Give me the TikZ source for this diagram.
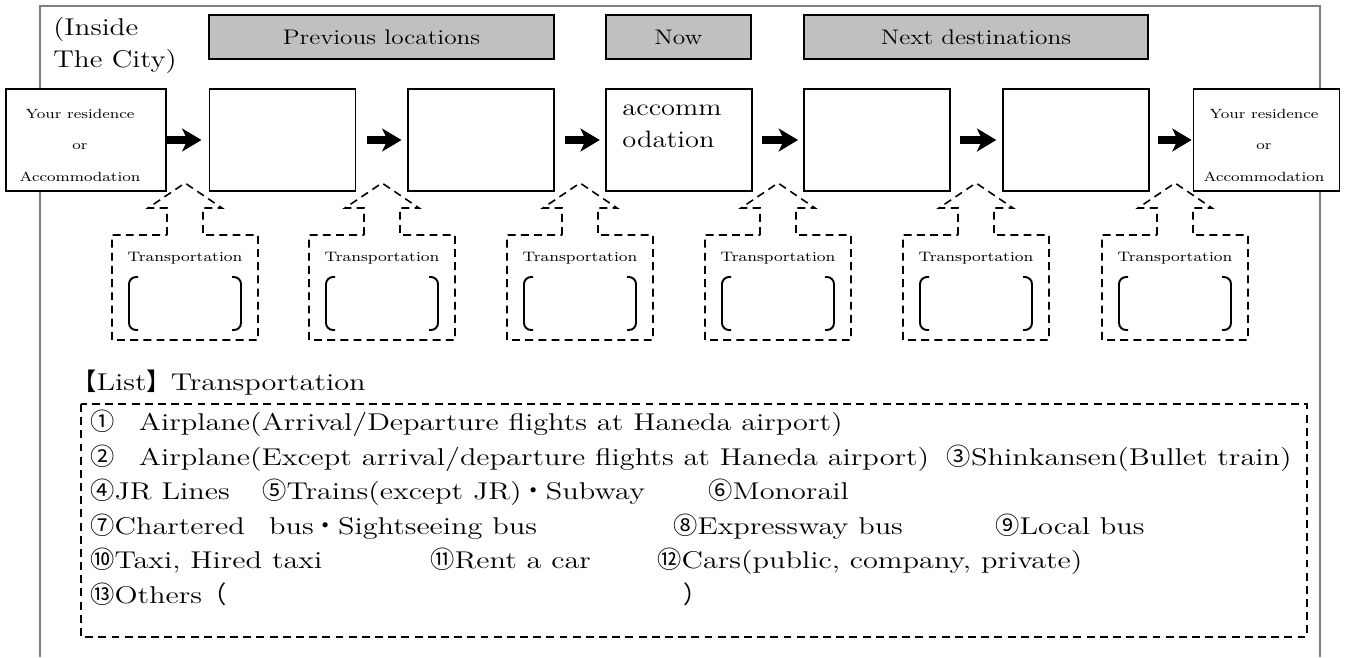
\documentclass[tikz,border=0pt]{standalone}
\usepackage{fontspec}
\setmainfont{Latin Modern Roman}[FakeStretch=1.2]
\newfontfamily\listfont{Latin Modern Roman}[FakeStretch=1.25]
\newfontfamily\jpfont{Noto Sans CJK JP}
\usetikzlibrary{arrows.meta,positioning}
\newcommand{\jp}[1]{{\jpfont #1}}
\definecolor{headgray}{RGB}{192,192,192}
\definecolor{framegray}{RGB}{128,128,128}

\begin{document}
\begin{tikzpicture}[x=0.02cm,y=-0.02cm,node distance=3.966cm,
		place/.style={rectangle,draw,line width=1.1pt,fill=white,minimum width=2.92cm,minimum height=2.04cm,inner sep=0pt},
		hometext/.style={align=center,inner sep=0pt,font=\fontsize{7.6}{17.9}\selectfont},
		head/.style={rectangle,draw,line width=1.1pt,fill=headgray,minimum height=0.88cm,inner sep=0pt,font=\fontsize{12}{14}\selectfont},
		go/.style={-{Stealth[length=11pt,width=13pt,inset=3pt]},line width=4.2pt},
		tdash/.style={draw,line width=0.9pt,dash pattern=on 4.5pt off 3pt},
		item/.style={anchor=base west,inner sep=0pt,font=\listfont\fontsize{13.8}{16}\selectfont}]
		\useasboundingbox (0,0) rectangle (1349,657);
		\draw[framegray,line width=1.1pt] (40,657) -- (40,6) -- (1320,6) -- (1320,657);
		
		\node[anchor=north west,align=left,inner sep=0pt,font=\fontsize{13.8}{18.1}\selectfont] (city) at (53,17) {(Inside\\The City)};
		\node[head,minimum width=6.9cm] (prev) at (381.5,37) {Previous locations};
		\node[head,minimum width=2.9cm] (now) at (678.5,37) {Now};
		\node[head,minimum width=6.88cm] (next) at (976,37) {Next destinations};
		
		\node[place,minimum width=3.2cm] (home1) at (86,140) {};
		\node[place] (p1) at (282.5,140) {};
		\node[place] (p2) [right of=p1] {};
		\node[place] (acc) [right of=p2] {};
		\node[place] (n1) [right of=acc] {};
		\node[place] (n2) [right of=n1] {};
		\node[place] (home2) at (1266.5,140) {};
		\node[hometext] (home1text) at (80,145) {Your residence\\or\\Accommodation};
		\node[hometext] (home2text) at (1264,145) {Your residence\\or\\Accommodation};
		\node[anchor=north west,align=left,inner sep=0pt,font=\fontsize{13.5}{18.1}\selectfont] (acctext) at ([xshift=0.34cm,yshift=-0.34cm]acc.north west) {accomm\\odation};
		
		\foreach \a/\b/\s/\e in {home1/p1/0pt/4pt, p1/p2/6pt/3pt, p2/acc/6pt/3pt, acc/n1/5pt/3pt, n1/n2/5pt/3pt, n2/home2/5pt/0.5pt}
			\draw[go,shorten <=\s,shorten >=\e] (\a) -- (\b);
		
		% transportation call-outs
		\foreach \c [count=\i] in {185,382,580,778,976,1175} {
			\draw[tdash] (\c-18,235) -- (\c-18,208) -- (\c-37,208) -- (\c,183) -- (\c+37,208) -- (\c+18,208) -- (\c+18,235)
				-- (\c+73,235) -- (\c+73,340) -- (\c-73,340) -- (\c-73,235) -- cycle;
			\node[font=\fontsize{7.8}{10}\selectfont] (t\i) at (\c,258) {Transportation};
			\draw[line width=1.1pt,rounded corners=4pt] (\c-47,277) -- (\c-56,277) -- (\c-56,330) -- (\c-47,330);
			\draw[line width=1.1pt,rounded corners=4pt] (\c+47,277) -- (\c+56,277) -- (\c+56,330) -- (\c+47,330);
		}
		
		% list
		\node[item] (listtitle) at (72,390) {\jp{【}List\jp{】}Transportation};
		\draw[tdash] (81,404) rectangle (1307,637);
		\node[item] (m1) at (90,430) {\jp{①　}Airplane(Arrival/Departure flights at Haneda airport)};
		\node[item] (m2) at (90,465) {\jp{②　}Airplane(Except arrival/departure flights at Haneda airport)};
		\node[item,anchor=base east] (m3) at (1292,465) {\jp{③}Shinkansen(Bullet train)};
		\node[item] (m4) at (90,499) {\jp{④}JR Lines};
		\node[item] (m5) at (262,499) {\jp{⑤}Trains(except JR)\jp{・}Subway};
		\node[item] (m6) at (708,499) {\jp{⑥}Monorail};
		\node[item] (m7) at (90,534) {\jp{⑦}Chartered\jp{　}bus\jp{・}Sightseeing bus};
		\node[item] (m8) at (673,534) {\jp{⑧}Expressway bus};
		\node[item] (m9) at (995,534) {\jp{⑨}Local bus};
		\node[item] (m10) at (90,568) {\jp{⑩}Taxi, Hired taxi};
		\node[item] (m11) at (430,568) {\jp{⑪}Rent a car};
		\node[item] (m12) at (657,568) {\jp{⑫}Cars(public, company, private)};
		\node[item] (m13) at (90,603) {\jp{⑬}Others\jp{（}};
		\node[item] (m13end) at (683,603) {\jp{）}};
\end{tikzpicture}
\end{document}
